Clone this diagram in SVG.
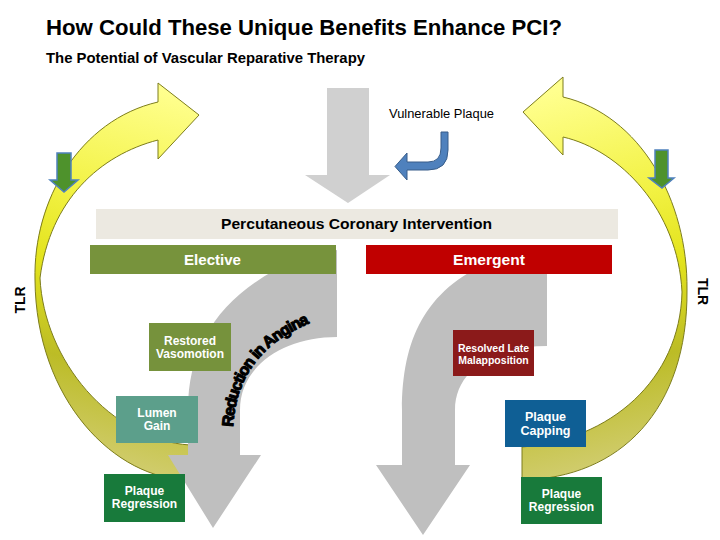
<svg xmlns="http://www.w3.org/2000/svg" width="720" height="540" viewBox="0 0 720 540">
<style>
  .t { font-family: "Liberation Sans", Arial, sans-serif; }
  .b { font-weight: bold; }
  .box text { font-family: "Liberation Sans", Arial, sans-serif; font-weight: bold; fill: #ffffff; text-anchor: middle; }
  .gray { fill: #bfbfbf; }
  .yel { stroke: #7d7d1c; stroke-width: 1; }
  .grn { fill: #4e922c; stroke: #4f81bd; stroke-width: 1.5; }
</style>
<defs>
  <linearGradient id="gL" gradientUnits="userSpaceOnUse" x1="200" y1="100" x2="100" y2="480">
    <stop offset="0" stop-color="#ffff8e"/>
    <stop offset="0.3" stop-color="#f2f244"/>
    <stop offset="0.5" stop-color="#e3e31c"/>
    <stop offset="0.72" stop-color="#bcbc26"/>
    <stop offset="0.95" stop-color="#d0cc6c"/>
  </linearGradient>
  <linearGradient id="gR" gradientUnits="userSpaceOnUse" x1="520" y1="100" x2="620" y2="480">
    <stop offset="0" stop-color="#ffff8e"/>
    <stop offset="0.3" stop-color="#f2f244"/>
    <stop offset="0.5" stop-color="#e3e31c"/>
    <stop offset="0.72" stop-color="#bcbc26"/>
    <stop offset="0.95" stop-color="#d0cc6c"/>
  </linearGradient>
  <path id="arcText" d="M 233,427 C 236,380 258,342 318,320"/>
</defs>
<rect width="720" height="540" fill="#ffffff"/>

<g id="titles">
  <text class="t b" x="46" y="35" font-size="22" textLength="516" lengthAdjust="spacingAndGlyphs">How Could These Unique Benefits Enhance PCI?</text>
  <text class="t b" x="46" y="63" font-size="14" textLength="319" lengthAdjust="spacingAndGlyphs">The Potential of Vascular Reparative Therapy</text>
</g>

<g id="connectors">
  <!-- left yellow curved arrow -->
  <path class="yel" fill="url(#gL)" d="M 190,480 C 115,480 36,400 35,280 C 33,200 80,120 158,102 L 158,83 L 199,115 L 158,159 L 158,140 C 100,155 50,200 40,278 C 44,360 110,440 190,445 Z"/>
  <!-- right yellow curved arrow -->
  <path class="yel" fill="url(#gR)" d="M 522,480 C 620,478 688,410 687,290 C 688,200 640,115 563,97 L 563,77 L 523,112 L 563,155 L 563,137 C 620,150 678,210 682,292 C 680,380 610,440 522,447 Z"/>
  <!-- top gray arrow -->
  <path fill="#d0d0d0" d="M 327,88 L 369,88 L 369,175 L 390,175 L 348,203 L 305,175 L 327,175 Z"/>
  <!-- left gray curved arrow -->
  <path class="gray" d="M 337,250 L 337,337 C 285,337 240,365 240,410 L 240,455 L 261,455 L 213,528 L 168,455 L 188,455 L 188,410 C 188,340 225,290 300,258 Z"/>
  <!-- right gray curved arrow -->
  <path class="gray" d="M 547,255 L 547,346 C 495,346 455,370 455,410 L 455,465 L 470,465 L 423,535 L 376,465 L 402,465 L 402,410 C 402,340 425,290 490,262 Z"/>
  <!-- blue vulnerable plaque arrow -->
  <path fill="#4f81bd" stroke="#385d8a" stroke-width="1" d="M 441,132 L 448,132 L 448,150 Q 448,170 428,170 L 407,170 L 407,180 L 395,166.5 L 407,153 L 407,162 L 428,162 Q 441,162 441,148 Z"/>
  <!-- green small arrows -->
  <path class="grn" d="M 57,153 L 71,153 L 71,180 L 78,180 L 64,192 L 50,180 L 57,180 Z"/>
  <path class="grn" d="M 655,150 L 668,150 L 668,178 L 674,178 L 662,188 L 649,178 L 655,178 Z"/>
</g>

<g id="vulnerable-plaque">
  <text class="t" x="389" y="118" font-size="12" textLength="105" lengthAdjust="spacingAndGlyphs">Vulnerable Plaque</text>
</g>

<g id="pci">
  <rect x="96" y="209" width="522" height="30" fill="#ece9e1"/>
  <text class="t b" x="221" y="229" font-size="14" textLength="271" lengthAdjust="spacingAndGlyphs">Percutaneous Coronary Intervention</text>
</g>

<g id="elective">
  <rect x="90" y="245" width="246" height="29" fill="#77933c"/>
  <text class="t b" x="184" y="265" font-size="14" fill="#ffffff" textLength="57" lengthAdjust="spacingAndGlyphs">Elective</text>
</g>

<g id="emergent">
  <rect x="366" y="245" width="246" height="29" fill="#c00000"/>
  <text class="t b" x="453" y="265" font-size="14" fill="#ffffff" textLength="72" lengthAdjust="spacingAndGlyphs">Emergent</text>
</g>

<g id="reduction-in-angina">
  <text class="t b" font-size="16" fill="#000000" stroke="#000000" stroke-width="1.1" stroke-linejoin="round" letter-spacing="-1"><textPath href="#arcText">Reduction in Angina</textPath></text>
</g>

<g id="restored-vasomotion" class="box">
  <rect x="149" y="323" width="82" height="48" fill="#76923c"/>
  <text x="190" y="345" font-size="12">Restored</text>
  <text x="190" y="358" font-size="12">Vasomotion</text>
</g>

<g id="lumen-gain" class="box">
  <rect x="116" y="396" width="82" height="47" fill="#5c9f8b"/>
  <text x="157" y="417" font-size="12">Lumen</text>
  <text x="157" y="430" font-size="12">Gain</text>
</g>

<g id="plaque-regression-left" class="box">
  <rect x="104" y="474" width="81" height="48" fill="#187a3b"/>
  <text x="144.5" y="495" font-size="12">Plaque</text>
  <text x="144.5" y="508" font-size="12">Regression</text>
</g>

<g id="resolved-late-malapposition" class="box">
  <rect x="453" y="330" width="81" height="46" fill="#8b1a1a"/>
  <text x="493.5" y="352" font-size="10.5">Resolved Late</text>
  <text x="493.5" y="364" font-size="10.5">Malapposition</text>
</g>

<g id="plaque-capping" class="box">
  <rect x="505" y="400" width="81" height="47" fill="#0f5f95"/>
  <text x="545.5" y="421" font-size="12.5">Plaque</text>
  <text x="545.5" y="435" font-size="12.5">Capping</text>
</g>

<g id="plaque-regression-right" class="box">
  <rect x="521" y="477" width="81" height="47" fill="#187a3b"/>
  <text x="561.5" y="498" font-size="12">Plaque</text>
  <text x="561.5" y="511" font-size="12">Regression</text>
</g>

<g id="tlr-left">
  <text class="t b" font-size="14" text-anchor="middle" transform="translate(24.5,300) rotate(-90)">TLR</text>
</g>
<g id="tlr-right">
  <text class="t b" font-size="14" text-anchor="middle" transform="translate(697.5,291.5) rotate(90)">TLR</text>
</g>
</svg>
